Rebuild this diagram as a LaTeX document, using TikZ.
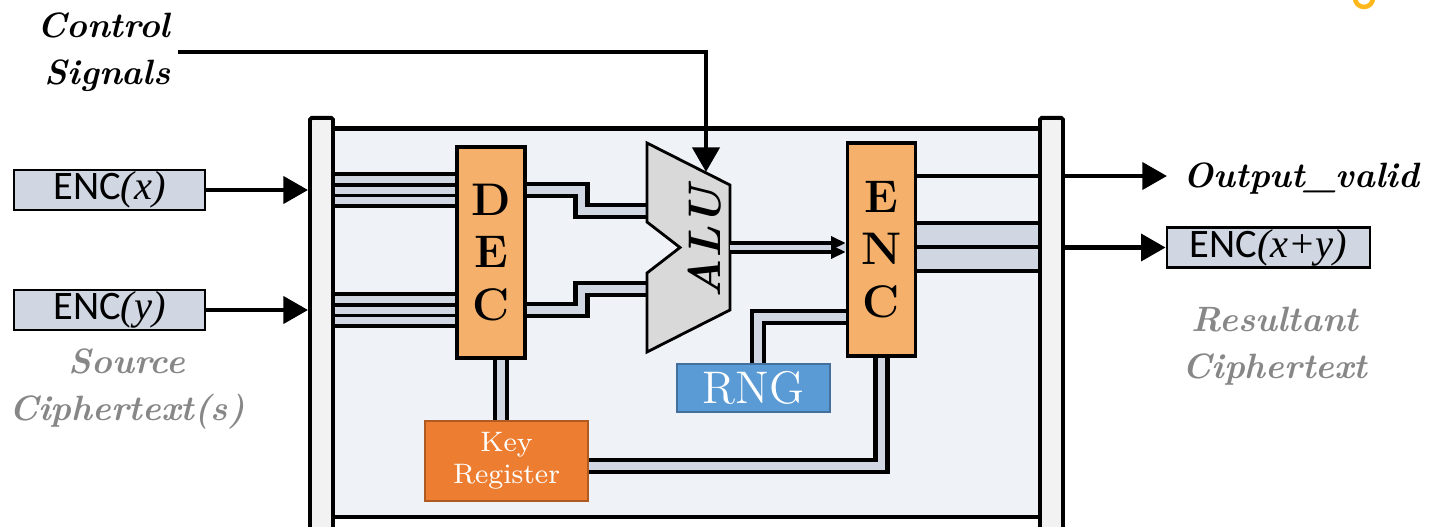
\documentclass[tikz,border=0pt]{standalone}
\usepackage{fontspec}
\newfontfamily\encfont{Carlito}
\newfontfamily\varfont{Liberation Serif}
\usetikzlibrary{arrows.meta,calc,positioning}
\definecolor{framefill}{HTML}{EFF3F7}
\definecolor{barfill}{HTML}{F2F2F2}
\definecolor{busfill}{HTML}{D0D6E2}
\definecolor{codecfill}{HTML}{F5B16B}
\definecolor{alufill}{HTML}{D9D9D9}
\definecolor{rngfill}{HTML}{5B9BD5}
\definecolor{rngline}{HTML}{41719C}
\definecolor{keyfill}{HTML}{ED7D31}
\definecolor{keyline}{HTML}{AE5A21}
\definecolor{captiongray}{HTML}{878787}
\definecolor{logoyellow}{HTML}{FFB81C}

\begin{document}
\begin{tikzpicture}[x=0.01cm, y=-0.01cm, >={Triangle[length=7pt,width=7.6pt]}]
        \tikzset{
            bar/.style={draw, fill=barfill, line width=1.1pt, minimum width=0.23cm, minimum height=4.3cm, inner sep=0pt, rounded corners=0.5pt},
            codec/.style={draw, fill=codecfill, line width=0.9pt, minimum width=0.68cm, inner sep=0pt, align=center, font=\bfseries\fontsize{13}{15}\selectfont},
            cipher/.style={draw, fill=busfill, line width=0.75pt, minimum height=0.4cm, inner sep=0pt, font=\fontsize{11.5}{13}\selectfont},
            caption/.style={align=center, font=\bfseries\itshape\fontsize{10}{13.4}\selectfont},
            bus/.style={draw, line width=1.2pt, double=busfill, double distance=2.2pt, line join=miter},
            wire/.style={draw, line width=1.1pt},
            arrow/.style={->, line width=1.3pt}
        }
        \useasboundingbox (0,0) rectangle (1432,527);
        \clip (0,0) rectangle (1432,527);

        % Nodes
        \node [draw, fill=framefill, line width=1.2pt, minimum width=7.23cm, minimum height=3.885cm, inner sep=0pt] (frame) at (686.5,322.75) {};
        \node [bar] (lbar) at (321.5,333) {};
        \node [bar] (rbar) at (1051.5,333) {};
        \node [codec, minimum height=2.11cm] (dec) at (491,252.5) {D\\E\\C};
        \node [codec, minimum height=2.13cm] (enc) at (881.5,249.5) {E\\N\\C};
        \node [draw=rngline, fill=rngfill, text=white, line width=0.6pt, minimum width=1.53cm, minimum height=0.48cm, inner sep=0pt, font=\fontsize{13}{15}\selectfont] (rng) at (753.5,388) {RNG};
        \node [draw=keyline, fill=keyfill, text=white, line width=0.6pt, minimum width=1.63cm, minimum height=0.8cm, inner sep=0pt, align=center, font=\fontsize{8}{9.2}\selectfont] (key) at (506.5,461) {Key\\Register};

        \node [cipher, minimum width=1.91cm] (encx) at (109.5,190) {{\encfont ENC}{\varfont\itshape (x)}};
        \node [cipher, minimum width=1.91cm] (ency) at (109.5,310) {{\encfont ENC}{\varfont\itshape (y)}};
        \node [cipher, minimum width=2.03cm] (encxy) at (1268.5,247.5) {{\encfont ENC}{\varfont\itshape (x+y)}};

        \node [caption, text=captiongray] (source) at (127,389) {Source\\Ciphertext(s)};
        \node [caption, text=captiongray] (result) at (1275,346) {Resultant\\Ciphertext};
        \node [caption, align=right, anchor=east, inner sep=2pt] (ctrl) at (178,52) {Control\\Signals};
        \node [caption, anchor=base west, inner sep=0pt] (valid) at (1183,187) {Output\_valid};

        % ALU ports
        \coordinate (alu-ctl) at (706,172);
        \coordinate (alu-in1) at (647,211);
        \coordinate (alu-in2) at (647,289);
        \coordinate (alu-out) at (730,247.5);
        \coordinate (valid-in) at ($(valid.west |- 0,176)+(-16,0)$);

        % Inputs
        \draw [arrow] (encx) -- (lbar.west |- encx);
        \draw [arrow] (ency) -- (lbar.west |- ency);
        \foreach \ya/\yb in {174/206, 294/326}
            \fill [busfill] (lbar.east |- 0,\ya) rectangle (dec.west |- 0,\yb);
        \foreach \y in {174,185,195.5,206,294,305,315.5,326}
            \draw [wire] (lbar.east |- 0,\y) -- (dec.west |- 0,\y);

        % DEC -> ALU
        \draw [bus] (dec.east |- 0,190) -| (581.5,211) -- (alu-in1);
        \draw [bus] (dec.east |- 0,310) -| (581.5,289) -- (alu-in2);

        % Key register and RNG
        \draw [bus] (501,0 |- dec.south) -- (501,0 |- key.north);
        \draw [bus] (key.east |- 0,466) -| (enc.south);
        \draw [bus] (758,0 |- rng.north) |- (enc.west |- 0,317);

        % ALU
        \draw [fill=alufill, line width=0.8pt] (647,143) -- (730,185) -- (730,310) -- (647,352) -- (647,273) -- (680,247.5) -- (647,222) -- cycle;
        \node [rotate=90, font=\bfseries\itshape\fontsize{13}{15}\selectfont] (alu) at (704.5,242.5) {ALU};
        \draw [arrow, line width=1.4pt] (ctrl.east) -| (alu-ctl);

        % ALU -> ENC
        \draw [busfill, line width=1.8pt] (alu-out) -- (enc.west |- alu-out);
        \foreach \dy in {-4.5,4.5}
            \draw [wire, -{Triangle[length=4.2pt,width=3.6pt]}] ($(alu-out)+(0,\dy)$) -- ($(enc.west |- alu-out)+(0,\dy)$);

        % ENC -> outputs
        \draw [wire] (enc.east |- 0,176) -- (rbar.west |- 0,176);
        \fill [busfill] (enc.east |- 0,223) rectangle (rbar.west |- 0,271);
        \foreach \y in {223,247,271}
            \draw [wire, line width=0.9pt] (enc.east |- 0,\y) -- (rbar.west |- 0,\y);
        \draw [arrow] (rbar.east |- valid-in) -- (valid-in);
        \draw [arrow] (rbar.east |- encxy) -- (encxy);

        \draw [logoyellow, line width=1.3pt] (1355,-2) arc [start angle=180, end angle=360, radius=0.09cm];
    \end{tikzpicture}
\end{document}
